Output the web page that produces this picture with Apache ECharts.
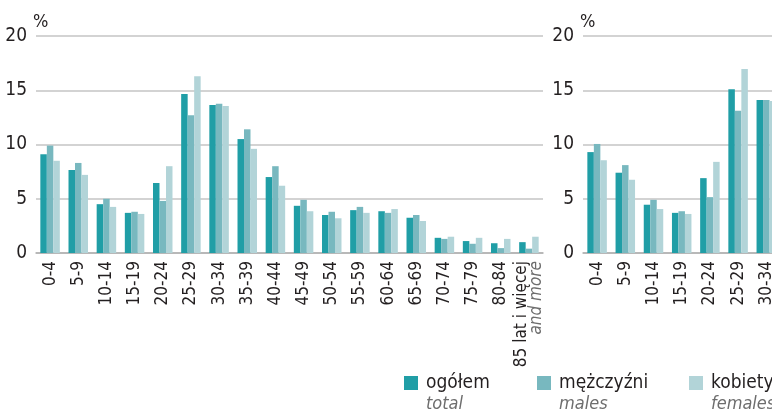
<!DOCTYPE html>
<html><head><meta charset="utf-8">
<script src="https://cdn.jsdelivr.net/npm/echarts@6/dist/echarts.min.js"></script>
<style>html,body{margin:0;padding:0;background:#fff}#c{width:772px;height:418px}</style>
</head><body><div id="c"></div>
<script>
const categories = ['0-4','5-9','10-14','15-19','20-24','25-29','30-34','35-39','40-44','45-49','50-54','55-59','60-64','65-69','70-74','75-79','80-84','85 lat i więcej'];
const total   = [9.1, 7.65, 4.5, 3.7, 6.45, 14.65, 13.65, 10.5, 7.0, 4.35, 3.5, 3.95, 3.85, 3.25, 1.4, 1.1, 0.9, 1.0];
const males   = [9.9, 8.3, 5.0, 3.8, 4.8, 12.7, 13.75, 11.4, 8.0, 4.9, 3.8, 4.25, 3.7, 3.5, 1.3, 0.85, 0.45, 0.4];
const females = [8.5, 7.2, 4.25, 3.6, 8.0, 16.3, 13.55, 9.6, 6.2, 3.85, 3.2, 3.7, 4.05, 2.95, 1.5, 1.4, 1.3, 1.5];
const categoriesRight = ['0-4','5-9','10-14','15-19','20-24','25-29','30-34'];
const totalRight   = [9.3, 7.4, 4.45, 3.7, 6.9, 15.1, 14.1];
const malesRight   = [10.05, 8.1, 4.9, 3.85, 5.15, 13.1, 14.1];
const femalesRight = [8.55, 6.75, 4.05, 3.6, 8.4, 16.95, 14.0];
const yTicks = [0, 5, 10, 15, 20];
const names = ['ogółem','mężczyźni','kobiety'];
const namesEn = ['total','males','females'];
const colors = ['#209ea6','#78b8bf','#b2d4d8'];

const FONT = "'Liberation Sans Narrow','DejaVu Sans Condensed',sans-serif";
const chart = echarts.init(document.getElementById('c'), null, {renderer:'canvas'});

function yAxis(gi){
  return {
    gridIndex: gi, type:'value', min: yTicks[0], max: yTicks[yTicks.length-1], interval: 5,
    name:'%', nameLocation:'end', nameGap: 5,
    nameTextStyle:{fontFamily:FONT, fontSize:18, color:'#231f20', align:'left', verticalAlign:'bottom', padding:[0,0,0,-3]},
    axisLine:{show:false}, axisTick:{show:false},
    axisLabel:{fontFamily:FONT, fontSize:19, color:'#231f20', margin:9},
    splitLine:{lineStyle:{color:'#c4c4c4', width:1.5}}
  };
}
function xAxis(gi, data){
  return {
    gridIndex: gi, type:'category', data: data,
    axisLine:{lineStyle:{color:'#b0b0b0', width:1.5}}, axisTick:{show:false},
    axisLabel:{
      rotate:90, interval:0, margin:8, fontFamily:FONT, fontSize:17, color:'#231f20', lineHeight:15,
      formatter: v => v === '85 lat i więcej' ? '85 lat i więcej\n{i|and more}' : v,
      rich:{ i:{fontFamily:FONT, fontSize:17, fontStyle:'italic', color:'#6d6d6d', lineHeight:15} }
    }
  };
}
const left = [total, males, females];
const right = [totalRight, malesRight, femalesRight];
const series = [];
names.forEach((n,i)=>{
  series.push({name:n, type:'bar', xAxisIndex:0, yAxisIndex:0, data:left[i], barWidth:6.5, barGap:'0%', itemStyle:{color:colors[i]}, silent:true});
});
names.forEach((n,i)=>{
  series.push({name:n, type:'bar', xAxisIndex:1, yAxisIndex:1, data:right[i], barWidth:6.5, barGap:'0%', itemStyle:{color:colors[i]}, silent:true});
});
const legendLefts = [404, 537, 689];
const legends = names.map((n,i)=>({
  data:[n], left: legendLefts[i], top: 353, icon:'rect', itemWidth:14, itemHeight:14, itemGap:0, padding:0,
  selectedMode:false,
  formatter: name => '{e| }\n{m|' + name + '}\n{i|' + namesEn[i] + '}',
  textStyle:{
    padding:[0,0,0,3],
    rich:{
      e:{fontSize:18, lineHeight:21},
      m:{fontFamily:FONT, fontSize:19, color:'#231f20', lineHeight:21},
      i:{fontFamily:FONT, fontSize:18, fontStyle:'italic', color:'#6d6d6d', lineHeight:21}
    }
  }
}));
chart.setOption({
  animation:false,
  backgroundColor:'#fff',
  grid:[
    {left:36, top:36, width:507, height:217, outerBoundsMode:'none', containLabel:false},
    {left:583, top:36, width:197.4, height:217, outerBoundsMode:'none', containLabel:false}
  ],
  xAxis:[xAxis(0, categories), xAxis(1, categoriesRight)],
  yAxis:[yAxis(0), yAxis(1)],
  legend: legends,
  series: series
});
</script></body></html>
